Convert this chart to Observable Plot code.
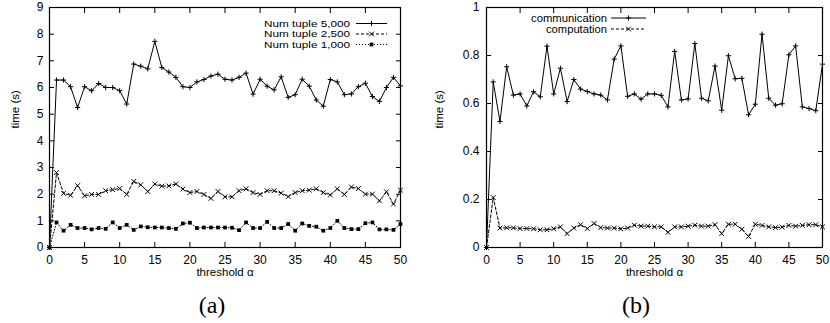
<!DOCTYPE html>
<html><head><meta charset="utf-8">
<script src="https://cdn.jsdelivr.net/npm/d3@7"></script>
<script src="https://cdn.jsdelivr.net/npm/@observablehq/plot@0.6"></script>
<style>
body{margin:0;background:#fff;}
#wrap{position:relative;width:830px;height:323px;overflow:hidden;background:#fff;}
.panel{position:absolute;top:0;}
.cap{position:absolute;top:293px;font-family:"Liberation Serif","DejaVu Serif",serif;font-size:24px;line-height:24px;color:#000;transform:translateX(-50%);white-space:nowrap;}
</style></head><body><div id="wrap"></div>
<script>
const thresholds = [0,1,2,3,4,5,6,7,8,9,10,11,12,13,14,15,16,17,18,19,20,21,22,23,24,25,26,27,28,29,30,31,32,33,34,35,36,37,38,39,40,41,42,43,44,45,46,47,48,49,50];
const xTicks = [0,5,10,15,20,25,30,35,40,45,50];

// panel (a)
const tuple5000 = [0,6.28,6.28,6.03,5.25,6.03,5.88,6.15,6.0,6.0,5.88,5.38,6.88,6.8,6.7,7.73,6.75,6.58,6.38,6.03,6.0,6.21,6.3,6.43,6.5,6.31,6.28,6.38,6.54,5.75,6.31,6.05,5.91,6.4,5.63,5.73,6.31,6.05,5.53,5.3,6.3,6.21,5.73,5.76,6.03,6.16,5.66,5.48,6.0,6.38,6.06];
const tuple2500 = [0,2.81,2.03,1.96,2.32,1.94,1.99,1.99,2.13,2.17,2.21,1.99,2.48,2.35,2.1,2.38,2.3,2.31,2.38,2.19,2.06,2.1,1.99,1.84,2.1,1.9,1.9,2.13,2.2,2.06,1.99,2.13,2.13,2.04,1.91,2.06,2.13,2.15,2.2,2.06,1.97,2.2,1.99,2.27,2.21,2.0,2.0,1.75,2.09,1.63,2.15];
const tuple1000 = [0,0.94,0.63,0.85,0.73,0.73,0.68,0.73,0.7,0.94,0.73,0.85,0.66,0.79,0.76,0.75,0.75,0.73,0.7,0.9,0.93,0.73,0.75,0.75,0.75,0.75,0.74,0.65,0.94,0.73,0.73,0.96,0.73,0.73,0.88,0.63,0.9,0.81,0.78,0.63,0.73,1.0,0.73,0.69,0.69,0.91,0.94,0.68,0.68,0.66,0.88];
const yTicksA = [0,1,2,3,4,5,6,7,8,9];
const seriesNamesA = ["Num tuple 5,000","Num tuple 2,500","Num tuple 1,000"];

// panel (b)
const communication = [0,0.69,0.525,0.753,0.635,0.64,0.59,0.649,0.628,0.839,0.64,0.747,0.608,0.70,0.66,0.65,0.64,0.635,0.615,0.785,0.84,0.63,0.64,0.618,0.64,0.64,0.634,0.586,0.817,0.615,0.619,0.85,0.622,0.611,0.756,0.572,0.799,0.703,0.705,0.553,0.597,0.889,0.622,0.593,0.599,0.803,0.84,0.586,0.579,0.57,0.764];
const computation = [0,0.208,0.081,0.082,0.082,0.079,0.079,0.078,0.074,0.074,0.078,0.086,0.058,0.081,0.095,0.079,0.1,0.083,0.081,0.081,0.078,0.081,0.093,0.089,0.089,0.086,0.086,0.063,0.086,0.086,0.089,0.093,0.089,0.089,0.095,0.058,0.097,0.097,0.076,0.046,0.097,0.092,0.086,0.083,0.085,0.092,0.089,0.092,0.095,0.095,0.086];
const yTicksB = [0,0.2,0.4,0.6,0.8,1];
const seriesNamesB = ["communication","computation"];

const xLabel = "threshold α";
const yLabel = "time (s)";
const captions = ["(a)","(b)"];

const FONT = "'Liberation Sans', Arial, sans-serif";
const styles = [
  {dash: null, symbol: "plus", r: 1.8, fill: "none", stroke: "#000"},
  {dash: "3,2", symbol: "times", r: 2.3, fill: "none", stroke: "#000"},
  {dash: "1,2", symbol: "square", r: 2.1, fill: "#000", stroke: "none"}
];
const symMap = {plus: d3.symbolPlus, times: d3.symbolTimes, square: d3.symbolSquare};

function makePanel(o) {
  const marks = [];
  o.series.forEach((vals, si) => {
    const st = styles[si];
    const data = thresholds.map((t, i) => ({t, v: vals[i]}));
    marks.push(Plot.line(data, {x: "t", y: "v", stroke: "#000", strokeWidth: 1, strokeDasharray: st.dash}));
    marks.push(Plot.dot(data, {x: "t", y: "v", symbol: st.symbol, r: st.r, fill: st.fill, stroke: st.stroke, strokeWidth: 1}));
  });
  marks.push(Plot.frame({stroke: "#000", strokeWidth: 1.2}));
  marks.push(Plot.axisX(xTicks, {anchor: "bottom", tickSize: -5, fill: "none", label: null}));
  marks.push(Plot.axisX(xTicks, {anchor: "top", tickSize: -5, fill: "none", label: null}));
  marks.push(Plot.axisX(xTicks, {anchor: "bottom", tickSize: 0, tickPadding: 8, label: null, fill: "#000", fontSize: 12}));
  marks.push(Plot.axisY(o.yTicks, {anchor: "left", tickSize: -5, fill: "none", label: null}));
  marks.push(Plot.axisY(o.yTicks, {anchor: "right", tickSize: -5, fill: "none", label: null}));
  marks.push(Plot.axisY(o.yTicks, {anchor: "left", tickSize: 0, tickPadding: o.yPad, label: null, fill: "#000", fontSize: 12, tickFormat: d => String(d)}));
  marks.push(Plot.text([xLabel], {text: d => d, frameAnchor: "bottom", dy: 28.5, fill: "#000", fontSize: 11.5}));
  marks.push(Plot.text([yLabel], {text: d => d, frameAnchor: "left", dx: o.yLabelDx, dy: 1, rotate: -90, fill: "#000", fontSize: 11.5}));
  const svg = Plot.plot({
    width: o.width, height: 290,
    marginLeft: o.mL, marginRight: o.mR, marginTop: 7, marginBottom: 43,
    x: {domain: [0, 50], label: null},
    y: {domain: o.yDomain, label: null},
    style: {fontFamily: FONT, fontSize: "11.5px", color: "#000", background: "#fff", overflow: "visible"},
    marks
  });
  // legend
  const g = d3.select(svg).append("g").attr("font-family", FONT).attr("font-size", o.legFont + "px");
  o.names.forEach((name, i) => {
    const y = o.legRows[i];
    const st = styles[i];
    g.append("text").attr("x", o.legTextX).attr("y", y).attr("dy", "0.35em").attr("text-anchor", "end")
      .attr("fill", "#000").attr("textLength", o.legTextLen[i]).attr("lengthAdjust", "spacingAndGlyphs").text(name);
    g.append("line").attr("x1", o.legLine[0]).attr("x2", o.legLine[1]).attr("y1", y).attr("y2", y)
      .attr("stroke", "#000").attr("stroke-width", 1).attr("stroke-dasharray", st.dash);
    g.append("path").attr("transform", `translate(${(o.legLine[0] + o.legLine[1]) / 2},${y})`)
      .attr("d", d3.symbol(symMap[st.symbol], Math.PI * st.r * st.r)())
      .attr("fill", st.fill).attr("stroke", st.stroke).attr("stroke-width", 1);
  });
  svg.classList.add("panel");
  svg.style.left = o.left + "px";
  return svg;
}

const wrap = document.getElementById("wrap");
wrap.appendChild(makePanel({
  left: 0, width: 415, mL: 49, mR: 15, yDomain: [0, 9], yTicks: yTicksA, yPad: 6, yLabelDx: -34,
  series: [tuple5000, tuple2500, tuple1000], names: seriesNamesA, legFont: 9.3,
  legRows: [23.5, 34, 44.5], legTextX: 350, legTextLen: [86, 86, 86], legLine: [356, 387]
}));
wrap.appendChild(makePanel({
  left: 415, width: 415, mL: 71, mR: 8, yDomain: [0, 1], yTicks: yTicksB, yPad: 7, yLabelDx: -47,
  series: [communication, computation], names: seriesNamesB, legFont: 10.5,
  legRows: [18, 29], legTextX: 192, legTextLen: [76, 61], legLine: [196, 231]
}));
captions.forEach((c, i) => {
  const d = document.createElement("div");
  d.className = "cap";
  d.style.left = (i === 0 ? 212 : 636) + "px";
  d.textContent = c;
  wrap.appendChild(d);
});
</script>
</body></html>
